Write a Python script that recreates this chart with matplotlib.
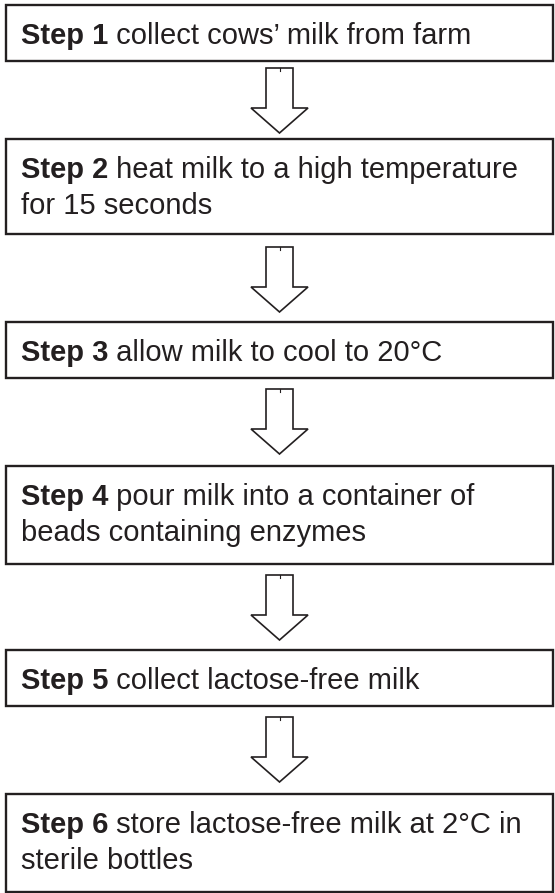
import matplotlib
matplotlib.use("Agg")
import matplotlib.pyplot as plt
from matplotlib.patches import Rectangle, Polygon

# ---- data ----
step_labels = ["Step 1", "Step 2", "Step 3", "Step 4", "Step 5", "Step 6"]
step_line1 = [
    " collect cows\u2019 milk from farm",
    " heat milk to a high temperature",
    " allow milk to cool to 20\u00b0C",
    " pour milk into a container of",
    " collect lactose-free milk",
    " store lactose-free milk at 2\u00b0C in",
]
step_line2 = [
    "",
    "for 15 seconds",
    "",
    "beads containing enzymes",
    "",
    "sterile bottles",
]

# ---- layout (pixels) ----
W, H = 555, 893
box_left, box_right = 5.5, 553
box_tops = [5, 139, 322, 466, 650, 794]
box_bottoms = [61, 234, 378, 564, 706, 892]
arrow_tops = [68, 247, 389, 575, 717]
arrow_len, shoulder = 65, 40
shaft_half, head_half, arrow_cx = 13.5, 28.5, 279.5
text_x = 21
first_base = 39
line_gap = 36
dark = "#231f20"

fig = plt.figure(figsize=(W / 100, H / 100), dpi=100)
ax = fig.add_axes([0, 0, 1, 1])
ax.set_xlim(0, W)
ax.set_ylim(H, 0)
ax.axis("off")

font = "Liberation Sans"
fs = 21

for i, lab in enumerate(step_labels):
    top, bot = box_tops[i], box_bottoms[i]
    ax.add_patch(Rectangle((box_left, top), box_right - box_left, bot - top,
                           fill=False, edgecolor=dark, linewidth=1.7, zorder=2))
    base = top + first_base
    tb = ax.text(text_x, base, lab, fontsize=fs, fontweight="bold",
                 family=font, color=dark, va="baseline", ha="left")
    ax.annotate(step_line1[i], xy=(1, base), xycoords=(tb, "data"),
                fontsize=fs, family=font, color=dark,
                va="baseline", ha="left")
    if step_line2[i]:
        ax.text(text_x, base + line_gap, step_line2[i], fontsize=fs,
                family=font, color=dark, va="baseline", ha="left")

for t in arrow_tops:
    pts = [
        (arrow_cx - shaft_half, t),
        (arrow_cx + shaft_half, t),
        (arrow_cx + shaft_half, t + shoulder),
        (arrow_cx + head_half, t + shoulder),
        (arrow_cx, t + arrow_len),
        (arrow_cx - head_half, t + shoulder),
        (arrow_cx - shaft_half, t + shoulder),
    ]
    ax.add_patch(Polygon(pts, closed=True, facecolor="white",
                         edgecolor=dark, linewidth=1.2, joinstyle="miter"))
    ax.plot([arrow_cx, arrow_cx], [t, t + 3], color=dark, linewidth=0.8)

fig.savefig("out.png", dpi=100, facecolor="white")
